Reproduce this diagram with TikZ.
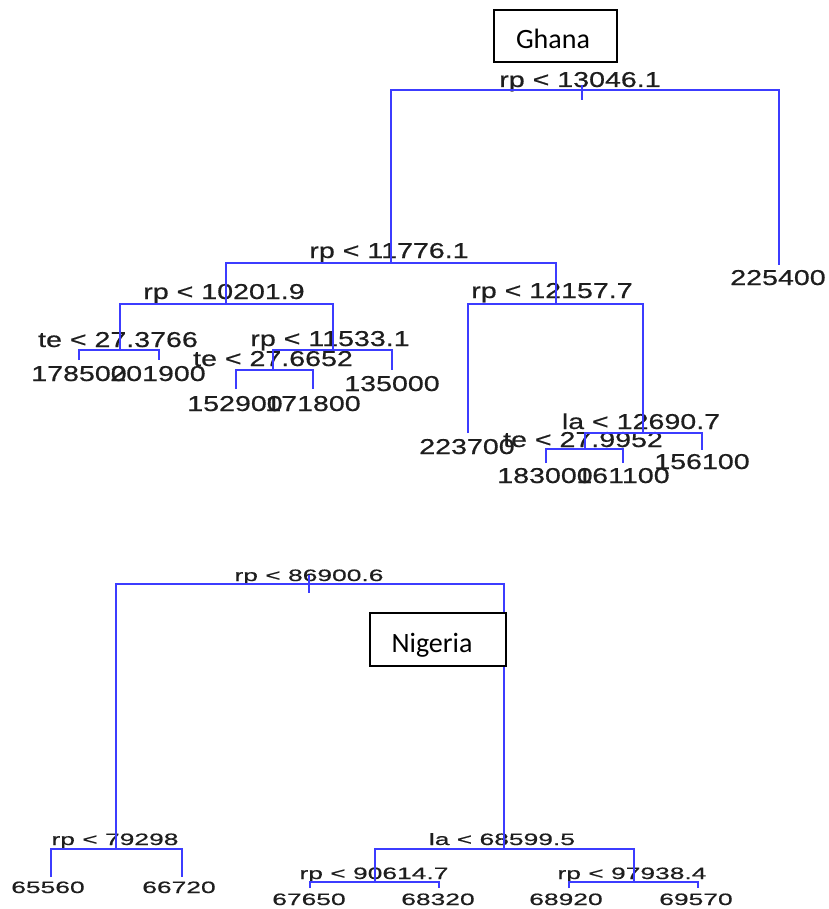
\documentclass[tikz,border=0pt]{standalone}
\usepackage{fontspec}
\setmainfont{Liberation Sans}
\newfontfamily\topfont[FakeStretch=1.33,FakeBold=0.6]{Liberation Sans}
\newfontfamily\botfont[FakeStretch=1.6,FakeBold=0.5]{Liberation Sans}
\newfontfamily\boxfont{Carlito}
\definecolor{treeblue}{RGB}{60,60,255}
\definecolor{txt}{RGB}{30,30,30}
\begin{document}
\begin{tikzpicture}[x=1pt,y=-1pt,
  toplbl/.style={anchor=base,inner sep=0pt,text=txt,font=\topfont\fontsize{21.5}{21.5}\selectfont},
  botlbl/.style={anchor=base,inner sep=0pt,text=txt,font=\botfont\fontsize{16.5}{16.5}\selectfont},
  topbr/.style={draw=treeblue,line width=2.6pt},
  botbr/.style={draw=treeblue,line width=1.6pt},
  titlebox/.style={draw=black,fill=white,line width=1.8pt},
  titletxt/.style={anchor=base,inner sep=0pt,text=black,font=\boxfont\fontsize{28}{28}\selectfont}]
\useasboundingbox (0,0) rectangle (828,909);
% ---------------- Ghana tree labels
\node[toplbl] (g0) at (580,87) {rp < 13046.1};
\node[toplbl] (gR) at (778,285) {225400};
\node[toplbl] (g1) at (389,258) {rp < 11776.1};
\node[toplbl] (g2) at (224,299) {rp < 10201.9};
\node[toplbl] (g3) at (552,298) {rp < 12157.7};
\node[toplbl] (g4) at (118,347) {te < 27.3766};
\node[toplbl] (g5) at (330,346) {rp < 11533.1};
\node[toplbl] (g6) at (273,366) {te < 27.6652};
\node[toplbl] (l1) at (79,381) {178500};
\node[toplbl] (l2) at (158,381) {201900};
\node[toplbl] (l3) at (392,391) {135000};
\node[toplbl] (l4) at (235,411) {152900};
\node[toplbl] (l5) at (313,411) {171800};
\node[toplbl] (l6) at (467,454) {223700};
\node[toplbl] (g7) at (641,429) {la < 12690.7};
\node[toplbl] (g8) at (583,447) {te < 27.9952};
\node[toplbl] (l7) at (702,469) {156100};
\node[toplbl] (l8) at (545,483) {183000};
\node[toplbl] (l9) at (623,483) {161100};
% ---------------- Ghana tree coordinates
\coordinate (a0t) at (582,85); \coordinate (a0b) at (582,100);
\coordinate (a0l) at (391,90); \coordinate (a0r) at (779,90);
\coordinate (a0le) at (391,263); \coordinate (a0re) at (779,265);
\coordinate (a1l) at (226,263); \coordinate (a1r) at (556,263);
\coordinate (a1le) at (226,304); \coordinate (a1re) at (556,304);
\coordinate (a2l) at (120,304); \coordinate (a2r) at (333,304);
\coordinate (a2le) at (120,350); \coordinate (a2re) at (333,350);
\coordinate (a4l) at (79,350); \coordinate (a4r) at (159,350);
\coordinate (a4le) at (79,360); \coordinate (a4re) at (159,360);
\coordinate (a5l) at (273,350); \coordinate (a5r) at (392,350);
\coordinate (a5le) at (273,370); \coordinate (a5re) at (392,370);
\coordinate (a6l) at (236,370); \coordinate (a6r) at (313,370);
\coordinate (a6le) at (236,389); \coordinate (a6re) at (313,389);
\coordinate (a3l) at (468,304); \coordinate (a3r) at (643,304);
\coordinate (a3le) at (468,433); \coordinate (a3re) at (643,433);
\coordinate (a7l) at (585,433); \coordinate (a7r) at (702,433);
\coordinate (a7le) at (585,449); \coordinate (a7re) at (702,450);
\coordinate (a8l) at (546,449); \coordinate (a8r) at (623,449);
\coordinate (a8le) at (546,463); \coordinate (a8re) at (623,463);
\draw[topbr] (a0t) -- (a0b);
\draw[topbr] (a0le) -- (a0l) -- (a0r) -- (a0re);
\draw[topbr] (a1le) -- (a1l) -- (a1r) -- (a1re);
\draw[topbr] (a2le) -- (a2l) -- (a2r) -- (a2re);
\draw[topbr] (a4le) -- (a4l) -- (a4r) -- (a4re);
\draw[topbr] (a5le) -- (a5l) -- (a5r) -- (a5re);
\draw[topbr] (a6le) -- (a6l) -- (a6r) -- (a6re);
\draw[topbr] (a3le) -- (a3l) -- (a3r) -- (a3re);
\draw[topbr] (a7le) -- (a7l) -- (a7r) -- (a7re);
\draw[topbr] (a8le) -- (a8l) -- (a8r) -- (a8re);
% ---------------- Ghana title
\draw[titlebox] (494,10) rectangle (617,62);
\node[titletxt] (ghana) at (553,49) {Ghana};
% ---------------- Nigeria tree labels
\node[botlbl] (n0) at (309,581) {rp < 86900.6};
\node[botlbl] (n1) at (115,845) {rp < 79298};
\node[botlbl] (n2) at (502,845) {la < 68599.5};
\node[botlbl] (m1) at (48,893) {65560};
\node[botlbl] (m2) at (179,893) {66720};
\node[botlbl] (n3) at (374,879) {rp < 90614.7};
\node[botlbl] (n4) at (632,879) {rp < 97938.4};
\node[botlbl] (m3) at (309,905) {67650};
\node[botlbl] (m4) at (438,905) {68320};
\node[botlbl] (m5) at (566,905) {68920};
\node[botlbl] (m6) at (696,905) {69570};
% ---------------- Nigeria tree coordinates
\coordinate (b0t) at (309,575); \coordinate (b0b) at (309,593);
\coordinate (b0l) at (116,584); \coordinate (b0r) at (504,584);
\coordinate (b0le) at (116,849); \coordinate (b0re) at (504,849);
\coordinate (b1l) at (51,849); \coordinate (b1r) at (182,849);
\coordinate (b1le) at (51,877); \coordinate (b1re) at (182,877);
\coordinate (b2l) at (375,849); \coordinate (b2r) at (634,849);
\coordinate (b2le) at (375,882); \coordinate (b2re) at (634,882);
\coordinate (b3l) at (310,882); \coordinate (b3r) at (439,882);
\coordinate (b3le) at (310,888); \coordinate (b3re) at (439,888);
\coordinate (b4l) at (569,882); \coordinate (b4r) at (698,882);
\coordinate (b4le) at (569,888); \coordinate (b4re) at (698,888);
\draw[botbr] (b0t) -- (b0b);
\draw[botbr] (b0le) -- (b0l) -- (b0r) -- (b0re);
\draw[botbr] (b1le) -- (b1l) -- (b1r) -- (b1re);
\draw[botbr] (b2le) -- (b2l) -- (b2r) -- (b2re);
\draw[botbr] (b3le) -- (b3l) -- (b3r) -- (b3re);
\draw[botbr] (b4le) -- (b4l) -- (b4r) -- (b4re);
% ---------------- Nigeria title
\draw[titlebox] (370,613) rectangle (506,666);
\node[titletxt] (nigeria) at (432,652) {Nigeria};
\end{tikzpicture}
\end{document}
